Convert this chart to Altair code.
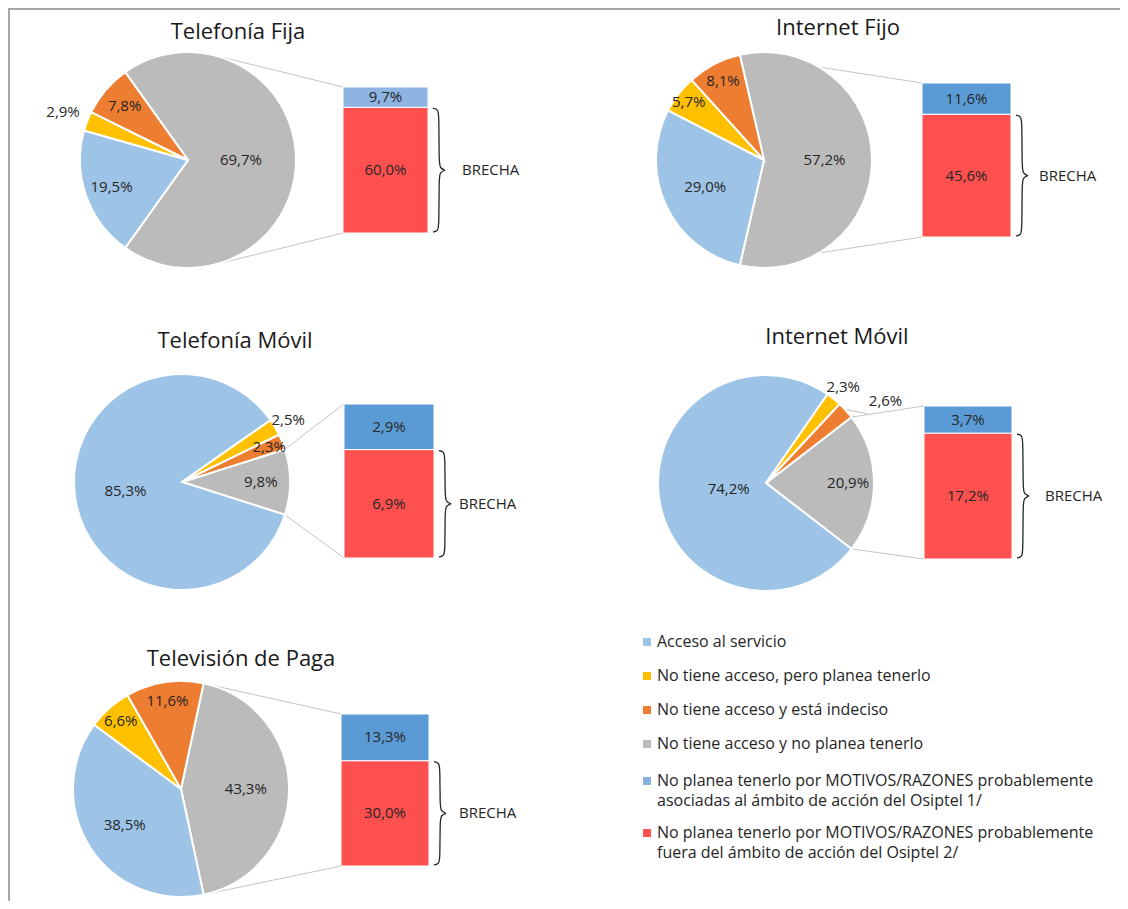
import math
import altair as alt
import pandas as pd

# ---------------- data ----------------
titles = ["Telefonía Fija", "Internet Fijo", "Telefonía Móvil", "Internet Móvil", "Televisión de Paga"]
acceso = [19.5, 29.0, 85.3, 74.2, 38.5]
planea = [2.9, 5.7, 2.5, 2.3, 6.6]
indeciso = [7.8, 8.1, 2.3, 2.6, 11.6]
no_planea = [69.7, 57.2, 9.8, 20.9, 43.3]
motivos_osiptel = [9.7, 11.6, 2.9, 3.7, 13.3]
motivos_fuera = [60.0, 45.6, 6.9, 17.2, 30.0]
brecha_text = "BRECHA"
legend_labels = [
    "Acceso al servicio",
    "No tiene acceso, pero planea tenerlo",
    "No tiene acceso y está indeciso",
    "No tiene acceso y no planea tenerlo",
    "No planea tenerlo por MOTIVOS/RAZONES probablemente\nasociadas al ámbito de acción del Osiptel 1/",
    "No planea tenerlo por MOTIVOS/RAZONES probablemente\nfuera del ámbito de acción del Osiptel 2/",
]

# ---------------- style ----------------
FONT = "Open Sans"
TXT = "#262626"
C_ACC, C_YEL, C_ORA, C_GRY = "#9DC3E6", "#FFC000", "#ED7D31", "#BBBBBB"
C_BLU, C_RED = "#5B9BD5", "#FF5050"
legend_colors = [C_ACC, C_YEL, C_ORA, C_GRY, "#86B0DE", C_RED]
top_bar_colors = ["#8DB4E2", C_BLU, C_BLU, C_BLU, C_BLU]
OFF = 8
R = 108
W, H = 1112, 893
LBL = 15

# layout (page pixel coordinates)
layout = [
    dict(title=(238, 32), c=(188, 160), bar=(343, 428, 87, 233), bx=462),
    dict(title=(838, 28), c=(764, 160), bar=(922, 1011, 83, 237), bx=1039),
    dict(title=(235, 341), c=(182, 482), bar=(344, 434, 404, 558), bx=459),
    dict(title=(837, 337), c=(766, 483), bar=(924, 1012, 406, 559), bx=1045),
    dict(title=(241, 659), c=(181, 789), bar=(341, 429, 714, 866), bx=459),
]
# label radius factors and angle nudges (degrees), slice order: gray, blue, yellow, orange
label_rf = [
    [0.49, 0.75, 1.24, 0.77],
    [0.56, 0.60, 0.88, 0.82],
    [0.73, 0.53, 1.14, 0.87],
    [0.76, 0.35, 1.14, 1.34],
    [0.60, 0.62, 0.84, 0.82],
]
label_nudge = [
    [0, 0, 0, 0],
    [0, 0, 0, 0],
    [0, 0, 0, 0],
    [0, 0, 0, 8],
    [0, 0, 0, 0],
]


def fmt(v):
    return f"{v:.1f}%".replace(".", ",")


def px(v):
    return v - OFF


dummy = pd.DataFrame({"d": [0]})
layers = []

# frame lines (left and top)
layers.append(alt.Chart(dummy).mark_rule(color="#A6A6A6", strokeWidth=2).encode(
    x=alt.value(1), y=alt.value(0), y2=alt.value(H)))
layers.append(alt.Chart(dummy).mark_rule(color="#A6A6A6", strokeWidth=2).encode(
    x=alt.value(0), x2=alt.value(W), y=alt.value(1)))

for i in range(5):
    L = layout[i]
    cx, cy = px(L["c"][0]), px(L["c"][1])
    vals = [no_planea[i], acceso[i], planea[i], indeciso[i]]
    cols = [C_GRY, C_ACC, C_YEL, C_ORA]
    total = sum(vals)
    a0 = math.pi / 2 - (vals[0] / total) * math.pi
    theta_scale = alt.Scale(domain=[0, total], range=[a0, a0 + 2 * math.pi])
    pdf = pd.DataFrame({
        "val": vals,
        "ord": [0, 1, 2, 3],
        "col": cols,
        "lab": [fmt(v) for v in vals],
        "lr": [f * R for f in label_rf[i]],
        "nud": [n / 360 * total for n in label_nudge[i]],
    })

    # connector lines
    s_deg = 90 - (vals[0] / total) * 180
    e_deg = 90 + (vals[0] / total) * 180
    if s_deg < -20:
        s_deg, e_deg = 15, 165
    bx0, bx1, btop, bbot = [px(v) for v in L["bar"]]
    for ang, by in ((s_deg, btop), (e_deg, bbot)):
        a = math.radians(ang)
        layers.append(alt.Chart(dummy).mark_rule(color="#C4C4C4", strokeWidth=1).encode(
            x=alt.value(cx + R * math.sin(a)), y=alt.value(cy - R * math.cos(a)),
            x2=alt.value(bx0), y2=alt.value(by)))

    # pie
    layers.append(alt.Chart(pdf).mark_arc(radius=R, stroke="white", strokeWidth=2).encode(
        theta=alt.Theta("val:Q", stack=True, scale=theta_scale),
        order=alt.Order("ord:Q"),
        color=alt.Color("col:N", scale=None),
        x=alt.value(cx), y=alt.value(cy)))

    # leader lines for far-out labels
    cum = 0
    for v, f, n in zip(vals, label_rf[i], label_nudge[i]):
        if f > 1.25:
            mid = a0 + (cum + v / 2) / total * 2 * math.pi
            lab_a = mid + math.radians(n)
            layers.append(alt.Chart(dummy).mark_rule(color="#BFBFBF", strokeWidth=1).encode(
                x=alt.value(cx + (R + 1) * math.sin(mid)), y=alt.value(cy - (R + 1) * math.cos(mid)),
                x2=alt.value(cx + (f * R - 22) * math.sin(lab_a)),
                y2=alt.value(cy - (f * R - 22) * math.cos(lab_a))))
        cum += v

    # pie labels (stack computed explicitly, label at the middle of each slice)
    layers.append(alt.Chart(pdf).transform_stack(
        stack="val", groupby=[], as_=["t0", "t1"], sort=[alt.SortField("ord", order="ascending")]
    ).transform_calculate(tm="(datum.t0 + datum.t1) / 2 + datum.nud").mark_text(
        font=FONT, fontSize=LBL, color=TXT).encode(
        theta=alt.Theta("tm:Q", stack=None, scale=theta_scale),
        radius=alt.Radius("lr:Q", scale=None),
        text="lab:N",
        x=alt.value(cx), y=alt.value(cy)))

    # stacked bar
    btot = motivos_fuera[i] + motivos_osiptel[i]
    y_scale = alt.Scale(domain=[0, btot], range=[bbot, btop], nice=False, zero=True)
    bdf = pd.DataFrame({
        "val": [motivos_fuera[i], motivos_osiptel[i]],
        "ord": [0, 1],
        "col": [C_RED, top_bar_colors[i]],
        "lab": [fmt(motivos_fuera[i]), fmt(motivos_osiptel[i])],
    })
    bstack = alt.Chart(bdf).transform_stack(
        stack="val", groupby=[], as_=["v0", "v1"], sort=[alt.SortField("ord", order="ascending")]
    )
    layers.append(bstack.mark_rect(stroke="white", strokeWidth=1).encode(
        x=alt.value(bx0), x2=alt.value(bx1),
        y=alt.Y("v0:Q", scale=y_scale, axis=None), y2="v1:Q",
        color=alt.Color("col:N", scale=None)))
    layers.append(bstack.transform_calculate(mid="(datum.v0 + datum.v1) / 2").mark_text(
        font=FONT, fontSize=LBL, color=TXT).encode(
        x=alt.value((bx0 + bx1) / 2),
        y=alt.Y("mid:Q", scale=y_scale, axis=None),
        text="lab:N"))

    # brace next to the red block
    split = bbot - (motivos_fuera[i] / btot) * (bbot - btop)
    ym = (split + bbot) / 2
    x0 = bx1 + 5
    bpts = [
        (x0, split + 1), (x0 + 5, split + 2), (x0 + 6, split + 8),
        (x0 + 6, ym - 8), (x0 + 7, ym - 2), (x0 + 12, ym), (x0 + 12, ym),
        (x0 + 7, ym + 2), (x0 + 6, ym + 8),
        (x0 + 6, bbot - 8), (x0 + 5, bbot - 2), (x0, bbot - 1),
    ]
    brace_df = pd.DataFrame({"x": [p[0] for p in bpts], "y": [p[1] for p in bpts], "k": list(range(len(bpts)))})
    layers.append(alt.Chart(brace_df).mark_line(color="#262626", strokeWidth=1.3, interpolate="basis").encode(
        x=alt.X("x:Q", scale=None), y=alt.Y("y:Q", scale=None), order="k:Q"))

    # BRECHA text, centred on the red block
    rdf = pd.DataFrame({"val": [motivos_fuera[i]], "t": [brecha_text]})
    layers.append(alt.Chart(rdf).transform_calculate(h="datum.val / 2").mark_text(
        font=FONT, fontSize=15, color=TXT, align="left", baseline="middle").encode(
        x=alt.value(px(L["bx"])),
        y=alt.Y("h:Q", scale=y_scale, axis=None),
        text="t:N"))

    # title
    tdf = pd.DataFrame({"t": [titles[i]]})
    layers.append(alt.Chart(tdf).mark_text(
        font=FONT, fontSize=22, color="#1A1A1A", align="center", baseline="middle").encode(
        x=alt.value(px(L["title"][0])), y=alt.value(px(L["title"][1])), text="t:N"))

# legend
leg_y = [642, 676, 710, 744, 781, 833]
for lab, col, yy in zip(legend_labels, legend_colors, leg_y):
    ldf = pd.DataFrame({"t": [lab]})
    layers.append(alt.Chart(ldf).mark_square(size=64, color=col, opacity=1).encode(
        x=alt.value(px(647)), y=alt.value(px(yy))))
    layers.append(alt.Chart(ldf).mark_text(
        font=FONT, fontSize=16, color=TXT, align="left", baseline="middle", lineBreak="\n",
        lineHeight=20).encode(
        x=alt.value(px(657)), y=alt.value(px(yy)), text="t:N"))

chart = alt.layer(*layers).resolve_scale(
    theta="independent", y="independent"
).properties(
    width=W, height=H, autosize=alt.AutoSizeParams(type="none"), padding=0
).configure_view(stroke=None)

chart.save("out.html", embed_options={"renderer": "svg", "actions": False})
